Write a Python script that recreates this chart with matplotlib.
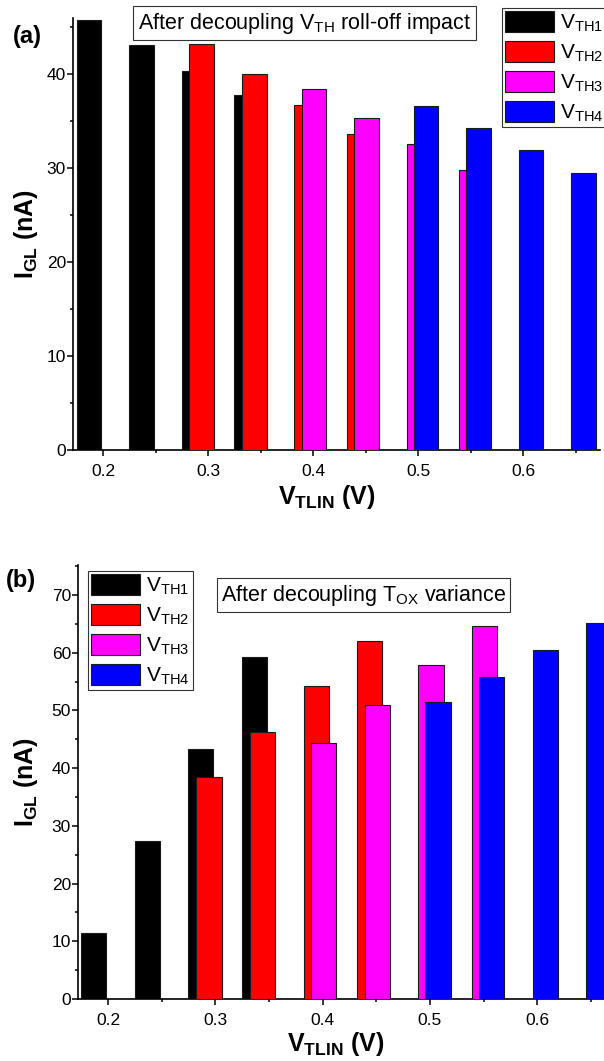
import matplotlib
matplotlib.use('Agg')
import matplotlib.pyplot as plt
from matplotlib.ticker import MultipleLocator

plt.rcParams['font.family'] = ['Liberation Sans', 'DejaVu Sans']
plt.rcParams['mathtext.default'] = 'regular'

# data
labels = ['V$_{TH1}$', 'V$_{TH2}$', 'V$_{TH3}$', 'V$_{TH4}$']
colors = ['#000000', '#ff0000', '#ff00ff', '#0000ff']

x_vth1 = [0.2, 0.25, 0.3, 0.35]
x_vth2 = [0.3, 0.35, 0.4, 0.45]
x_vth3 = [0.4, 0.45, 0.5, 0.55]
x_vth4 = [0.5, 0.55, 0.6, 0.65]

# (a) after decoupling VTH roll-off impact
a_vth1 = [45.8, 43.1, 40.4, 37.8]
a_vth2 = [43.2, 40.0, 36.7, 33.6]
a_vth3 = [38.4, 35.4, 32.6, 29.8]
a_vth4 = [36.6, 34.3, 31.9, 29.5]

# (b) after decoupling TOX variance
b_vth1 = [11.4, 27.3, 43.4, 59.2]
b_vth2 = [38.5, 46.3, 54.3, 62.1]
b_vth3 = [44.3, 51.0, 57.8, 64.6]
b_vth4 = [51.4, 55.8, 60.5, 65.1]

W, H = 604, 1061
fig = plt.figure(figsize=(W / 100, H / 100), dpi=100)

offsets = [-0.0135, -0.006, 0.001, 0.0075]
bar_w = 0.0235


def px(x, y):
    return x / W, 1 - y / H


def draw_panel(ax, xs, ys, ylim, xlim):
    for i in range(4):
        ax.bar([x + offsets[i] for x in xs[i]], ys[i], width=bar_w,
               color=colors[i], edgecolor='#1a1a1a', linewidth=0.8,
               label=labels[i], zorder=2 + i)
    ax.set_xlim(*xlim)
    ax.set_ylim(*ylim)
    for s in ['top', 'right']:
        ax.spines[s].set_visible(False)
    for s in ['left', 'bottom']:
        ax.spines[s].set_linewidth(1.2)
    ax.xaxis.set_major_locator(MultipleLocator(0.1))
    ax.xaxis.set_minor_locator(MultipleLocator(0.05))
    ax.yaxis.set_major_locator(MultipleLocator(10))
    ax.yaxis.set_minor_locator(MultipleLocator(5))
    ax.tick_params(which='both', direction='out', width=1.1, labelsize=12.5)
    ax.tick_params(which='major', length=4)
    ax.tick_params(which='minor', length=2.5)
    ax.tick_params(axis='x', pad=6)
    ax.tick_params(axis='y', pad=1)
    ax.set_xlabel('V$_{TLIN}$ (V)', fontsize=18, fontweight='bold')
    ax.set_ylabel('I$_{GL}$ (nA)', fontsize=18, fontweight='bold')


def add_legend(ax, x0, y0):
    leg = ax.legend(loc='upper left', bbox_to_anchor=px(x0, y0),
                    bbox_transform=fig.transFigure, fontsize=15,
                    handlelength=2.35, handleheight=1.2, handletextpad=0.3,
                    labelspacing=0.33, borderpad=0.15, borderaxespad=0,
                    fancybox=False, framealpha=1)
    leg.get_frame().set_edgecolor('#333333')
    leg.get_frame().set_linewidth(0.8)
    leg.set_zorder(10)


box = dict(boxstyle='square,pad=0.2', fc='white', ec='#333333', lw=0.8)

# panel (a)
axa = fig.add_axes([73 / W, 1 - 450 / H, 527 / W, 432 / H])
draw_panel(axa, [x_vth1, x_vth2, x_vth3, x_vth4],
           [a_vth1, a_vth2, a_vth3, a_vth4], (0, 46), (0.1714, 0.6733))
axa.xaxis.set_label_coords(0.482, -0.076)
axa.yaxis.set_label_coords(-0.063, 0.5)
add_legend(axa, 502, 8)
fig.text(*px(304.5, 23), 'After decoupling V$_{TH}$ roll-off impact',
         ha='center', va='center', fontsize=15.5, bbox=box)
fig.text(*px(27, 36), '(a)', ha='center', va='center', fontsize=17,
         fontweight='bold')

# panel (b)
axb = fig.add_axes([78 / W, 1 - 999 / H, 526 / W, 434 / H])
draw_panel(axb, [x_vth1, x_vth2, x_vth3, x_vth4],
           [b_vth1, b_vth2, b_vth3, b_vth4], (0, 75.2), (0.172, 0.6622))
axb.xaxis.set_label_coords(0.49, -0.072)
axb.yaxis.set_label_coords(-0.072, 0.5)
add_legend(axb, 88, 571)
fig.text(*px(363.5, 595), 'After decoupling T$_{OX}$ variance',
         ha='center', va='center', fontsize=15.5, bbox=box)
fig.text(*px(21, 580), '(b)', ha='center', va='center', fontsize=17,
         fontweight='bold')

fig.savefig('out.png', dpi=100)
